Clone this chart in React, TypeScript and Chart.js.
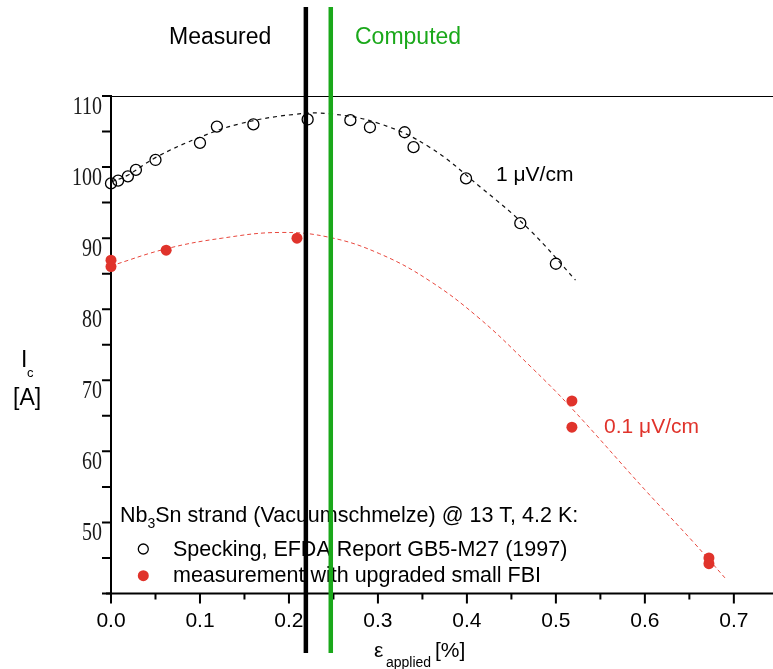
import React, { useEffect, useRef } from 'react';
import { Chart, registerables } from 'chart.js';

Chart.register(...registerables);

// Specking, EFDA Report (open circles)
const SPECK_X = [0.0, 0.008, 0.019, 0.028, 0.05, 0.1, 0.119, 0.16, 0.221, 0.269, 0.291, 0.33, 0.34, 0.399, 0.46, 0.5];
const SPECK_Y = [97.7, 98.1, 98.7, 99.6, 101.0, 103.4, 105.7, 106.0, 106.7, 106.6, 105.6, 104.9, 102.8, 98.4, 92.1, 86.4];

// measurement with upgraded small FBI (red dots)
const FBI_X = [0.0, 0.0, 0.062, 0.209, 0.518, 0.518, 0.672, 0.672];
const FBI_Y = [86.9, 86.0, 88.3, 90.0, 67.1, 63.4, 45.0, 44.2];

// dashed fit at 1 µV/cm
const FIT1_X = [0.0, 0.018, 0.051, 0.1, 0.145, 0.205, 0.246, 0.302, 0.358, 0.415, 0.471, 0.522];
const FIT1_Y = [97.9, 98.8, 101.4, 104.2, 106.1, 107.4, 107.5, 106.1, 102.8, 97.2, 91.1, 84.1];

// dashed fit at 0.1 µV/cm
const FIT01_X = [0.0, 0.062, 0.125, 0.19, 0.246, 0.302, 0.358, 0.415, 0.471, 0.516, 0.6, 0.654, 0.69];
const FIT01_Y = [86.1, 88.5, 90.0, 90.8, 90.1, 87.8, 84.0, 78.6, 72.0, 66.3, 54.6, 47.3, 42.2];

// vertical markers
const MEASURED_X = 0.219;
const COMPUTED_X = 0.247;

// axes
const X_MIN = 0;
const X_MAX = 0.744;
const Y_MIN = 40;
const Y_MAX = 110;
const X_MAJOR = [0, 0.1, 0.2, 0.3, 0.4, 0.5, 0.6, 0.7];
const X_MINOR = [0.05, 0.15, 0.25, 0.35, 0.45, 0.55, 0.65];
const X_TICK_LABELS = ['0.0', '0.1', '0.2', '0.3', '0.4', '0.5', '0.6', '0.7'];
const Y_TICKS = [40, 45, 50, 55, 60, 65, 70, 75, 80, 85, 90, 95, 100, 105, 110];
const Y_LABEL_VALUES = [50, 60, 70, 80, 90, 100, 110];
const Y_TICK_LABELS = ['50', '60', '70', '80', '90', '100', '110'];

const RED = '#e0332b';
const RED_LINE = '#e8473d';
const GREEN = '#1aa81a';
const SANS = '"Liberation Sans", Arial, sans-serif';
const SERIF = '"Liberation Serif", "Times New Roman", serif';

const toPts = (xs: number[], ys: number[]) => xs.map((x, i) => ({ x, y: ys[i] }));

const axesPlugin = {
  id: 'axesDecor',
  beforeDatasetsDraw(chart: any) {
    const ctx: CanvasRenderingContext2D = chart.ctx;
    const xs = chart.scales.x;
    const ys = chart.scales.y;
    const W = chart.width;
    const left = xs.getPixelForValue(X_MIN);
    const bottom = ys.getPixelForValue(Y_MIN);
    const top = ys.getPixelForValue(Y_MAX);
    ctx.save();
    ctx.strokeStyle = '#000';
    ctx.fillStyle = '#000';
    ctx.lineCap = 'butt';

    // top frame line
    ctx.lineWidth = 1;
    ctx.beginPath();
    ctx.moveTo(left, Math.round(top) + 0.5);
    ctx.lineTo(W, Math.round(top) + 0.5);
    ctx.stroke();

    // axes
    ctx.lineWidth = 2;
    ctx.beginPath();
    ctx.moveTo(left, top - 1);
    ctx.lineTo(left, bottom + 1);
    ctx.moveTo(left - 5, bottom);
    ctx.lineTo(W, bottom);
    ctx.stroke();

    // ticks
    ctx.beginPath();
    Y_TICKS.forEach((v) => {
      const py = ys.getPixelForValue(v);
      ctx.moveTo(left - 9, py);
      ctx.lineTo(left, py);
    });
    X_MAJOR.forEach((v) => {
      const px = xs.getPixelForValue(v);
      ctx.moveTo(px, bottom);
      ctx.lineTo(px, bottom + 10);
    });
    X_MINOR.forEach((v) => {
      const px = xs.getPixelForValue(v);
      ctx.moveTo(px, bottom);
      ctx.lineTo(px, bottom + 6);
    });
    ctx.stroke();

    // y tick labels (condensed serif, hanging below tick)
    ctx.fillStyle = '#1a1a1a';
    ctx.font = `25px ${SERIF}`;
    ctx.textAlign = 'right';
    ctx.textBaseline = 'alphabetic';
    Y_LABEL_VALUES.forEach((v, i) => {
      const py = ys.getPixelForValue(v);
      ctx.save();
      ctx.translate(left - 9, py + 17.5);
      ctx.scale(0.8, 1);
      ctx.fillText(Y_TICK_LABELS[i], 0, 0);
      ctx.restore();
    });

    // x tick labels
    ctx.fillStyle = '#000';
    ctx.font = `21px ${SANS}`;
    ctx.textAlign = 'center';
    X_MAJOR.forEach((v, i) => {
      ctx.fillText(X_TICK_LABELS[i], xs.getPixelForValue(v), 627);
    });
    ctx.restore();
  },
};

const decorPlugin = {
  id: 'decor',
  afterDatasetsDraw(chart: any) {
    const ctx: CanvasRenderingContext2D = chart.ctx;
    const xs = chart.scales.x;
    ctx.save();
    ctx.fillStyle = '#000';
    ctx.textBaseline = 'alphabetic';
    ctx.textAlign = 'left';

    // axis titles
    ctx.font = `23px ${SANS}`;
    ctx.fillText('I', 21, 367);
    ctx.font = `13px ${SANS}`;
    ctx.fillText('c', 27, 377);
    ctx.font = `23px ${SANS}`;
    ctx.fillText('[A]', 13, 405);

    ctx.font = `21px ${SANS}`;
    ctx.fillText('ε', 374, 657);
    ctx.font = `14px ${SANS}`;
    ctx.fillText('applied', 386, 667);
    ctx.font = `21px ${SANS}`;
    ctx.fillText('[%]', 435, 657);

    // curve labels
    ctx.fillText('1 μV/cm', 496, 181);
    ctx.fillStyle = RED;
    ctx.fillText('0.1 μV/cm', 604, 433);

    // legend block
    ctx.fillStyle = '#000';
    const LF = `21.5px ${SANS}`;
    ctx.font = LF;
    let x = 120;
    ctx.fillText('Nb', x, 521.5);
    x += ctx.measureText('Nb').width;
    ctx.font = `14px ${SANS}`;
    ctx.fillText('3', x, 528);
    x += ctx.measureText('3').width;
    ctx.font = LF;
    ctx.fillText('Sn strand (Vacuumschmelze) @ 13 T, 4.2 K:', x, 521.5);
    ctx.fillText('Specking, EFDA Report GB5-M27 (1997)', 173, 555.5);
    ctx.fillText('measurement with upgraded small FBI', 173, 582);

    ctx.lineWidth = 1.3;
    ctx.strokeStyle = '#000';
    ctx.beginPath();
    ctx.arc(143.3, 549, 5, 0, Math.PI * 2);
    ctx.stroke();
    ctx.fillStyle = RED;
    ctx.beginPath();
    ctx.arc(143.3, 575.7, 5.5, 0, Math.PI * 2);
    ctx.fill();

    // header labels
    ctx.fillStyle = '#000';
    ctx.font = `23px ${SANS}`;
    ctx.fillText('Measured', 169, 44);
    ctx.fillStyle = GREEN;
    ctx.fillText('Computed', 355, 44);

    // vertical lines
    const mx = xs.getPixelForValue(MEASURED_X);
    const cx = xs.getPixelForValue(COMPUTED_X);
    ctx.lineWidth = 4.5;
    ctx.strokeStyle = '#000';
    ctx.beginPath();
    ctx.moveTo(mx, 7);
    ctx.lineTo(mx, 653);
    ctx.stroke();
    ctx.strokeStyle = GREEN;
    ctx.beginPath();
    ctx.moveTo(cx, 7);
    ctx.lineTo(cx, 653);
    ctx.stroke();

    ctx.restore();
  },
};

export default function App() {
  const ref = useRef<HTMLCanvasElement>(null);
  useEffect(() => {
    const canvas = ref.current;
    if (!canvas) return;
    const chart = new Chart(canvas, {
      type: 'scatter',
      data: {
        datasets: [
          {
            label: 'Specking, EFDA Report GB5-M27 (1997)',
            data: toPts(SPECK_X, SPECK_Y),
            pointStyle: 'circle',
            pointRadius: 5.5,
            pointBorderWidth: 1.3,
            borderColor: '#000',
            backgroundColor: 'rgba(0,0,0,0)',
            clip: false,
            order: 0,
          } as any,
          {
            label: 'measurement with upgraded small FBI',
            data: toPts(FBI_X, FBI_Y),
            pointStyle: 'circle',
            pointRadius: 5.5,
            pointBorderWidth: 0,
            borderColor: RED,
            backgroundColor: RED,
            clip: false,
            order: 0,
          } as any,
          {
            label: '1 μV/cm',
            data: toPts(FIT1_X, FIT1_Y),
            showLine: true,
            pointRadius: 0,
            borderColor: '#111',
            borderWidth: 1.2,
            borderDash: [4, 4],
            tension: 0.4,
            fill: false,
            clip: false,
            order: 1,
          } as any,
          {
            label: '0.1 μV/cm',
            data: toPts(FIT01_X, FIT01_Y),
            showLine: true,
            pointRadius: 0,
            borderColor: RED_LINE,
            borderWidth: 1,
            borderDash: [4, 3],
            tension: 0.4,
            fill: false,
            clip: false,
            order: 1,
          } as any,
        ],
      },
      options: {
        responsive: false,
        animation: false,
        devicePixelRatio: 1,
        layout: { autoPadding: false, padding: { left: 111, right: 0, top: 96, bottom: 75.5 } },
        scales: {
          x: { type: 'linear', min: X_MIN, max: X_MAX, display: false },
          y: { type: 'linear', min: Y_MIN, max: Y_MAX, display: false },
        },
        plugins: {
          legend: { display: false },
          tooltip: { enabled: false },
        },
        events: [],
      } as any,
      plugins: [axesPlugin, decorPlugin],
    });
    return () => chart.destroy();
  }, []);
  return (
    <div style={{ position: 'fixed', left: 0, top: 0, width: 773, height: 669, background: '#fff' }}>
      <canvas ref={ref} width={773} height={669} style={{ display: 'block', width: 773, height: 669 }} />
    </div>
  );
}
